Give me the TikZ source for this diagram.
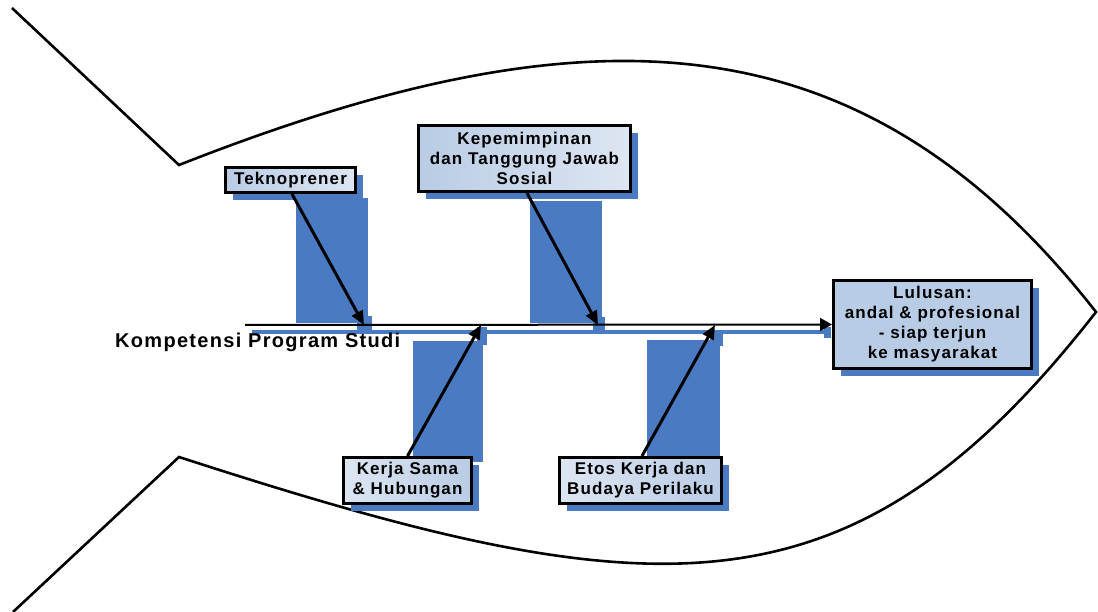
\documentclass[tikz,border=0pt]{standalone}
\usepackage{fontspec}
\setmainfont{Liberation Sans}
\newfontfamily\diafont{Liberation Sans Bold}[LetterSpace=6.5]
\usetikzlibrary{arrows.meta,shadows}
\definecolor{shblue}{RGB}{74,122,194}
\definecolor{boxdark}{RGB}{185,204,229}
\definecolor{boxlight}{RGB}{221,230,242}
\tikzset{
  fishline/.style={line width=2.6pt, line join=miter},
  catbox/.style={draw=black, line width=3pt, align=center, inner sep=0pt,
    font=\diafont\fontsize{17}{20}\selectfont,
    drop shadow={shadow xshift=7.5pt, shadow yshift=-7.5pt, fill=shblue, opacity=1}},
  causearrow/.style={line width=3pt, -{Triangle[length=14pt,width=12pt]}},
  spinearrow/.style={line width=2pt, -{Triangle[length=12pt,width=13pt]}},
  shadowfill/.style={fill=shblue},
  spinelabel/.style={font=\diafont\fontsize{20}{22}\selectfont, inner sep=0pt, anchor=base west}
}
\begin{document}
\begin{tikzpicture}[x=1pt,y=-1pt]
\useasboundingbox (0,0) rectangle (1098,612);
% arrow shadows
\fill[shadowfill] (296,198) rectangle (368,323);
\fill[shadowfill] (357,316) rectangle (372,332);
\fill[shadowfill] (530,201) rectangle (602,323);
\fill[shadowfill] (593,317) rectangle (605,331);
\fill[shadowfill] (413,341) rectangle (483,462);
\fill[shadowfill] (477,327) rectangle (487,345);
\fill[shadowfill] (647,340) rectangle (720,463);
\fill[shadowfill] (710,330) rectangle (723,346);
% spine shadow
\fill[shadowfill] (252,330) rectangle (830,334);
\fill[shadowfill] (824,327) rectangle (831,338);
% fish outline
\draw[fishline] (12,8) -- (179,165) .. controls (588,4) and (862,13) .. (1096,312)
  .. controls (850,627) and (654,611) .. (179,457) -- (13,612);
% boxes
\node[catbox, minimum width=130pt, minimum height=25pt, left color=boxdark, right color=boxlight] (tek) at (290.5,180) {Teknoprener};
\node[catbox, minimum width=212pt, minimum height=66pt, left color=boxdark, right color=boxlight] (kep) at (524.5,158.5) {Kepemimpinan\\dan Tanggung Jawab\\Sosial};
\node[catbox, minimum width=198pt, minimum height=88pt, fill=boxdark] (lul) at (932.5,324.5) {Lulusan:\\andal \& profesional\\- siap terjun\\ke masyarakat};
\node[catbox, minimum width=128pt, minimum height=46pt, left color=boxlight, right color=boxdark] (kerja) at (407.5,480.5) {Kerja Sama\\\& Hubungan};
\node[catbox, minimum width=162pt, minimum height=46pt, left color=boxlight, right color=boxdark] (etos) at (640.5,480.5) {Etos Kerja dan\\Budaya Perilaku};
\node[spinelabel] (lbl) at (115,348) {Kompetensi Program Studi};
% spine
\coordinate (sp) at (245,325);
\draw[spinearrow] (sp) -- (lul.west);
% cause arrows
\coordinate (t1) at (364,325);
\coordinate (t2) at (598,325);
\coordinate (t3) at (481,325);
\coordinate (t4) at (715,325);
\draw[causearrow] ([xshift=1.5pt]tek.south) -- (t1);
\draw[causearrow] ([xshift=2.5pt]kep.south) -- (t2);
\draw[causearrow] (kerja.north) -- (t3);
\draw[causearrow] ([xshift=1.5pt]etos.north) -- (t4);
\end{tikzpicture}
\end{document}
